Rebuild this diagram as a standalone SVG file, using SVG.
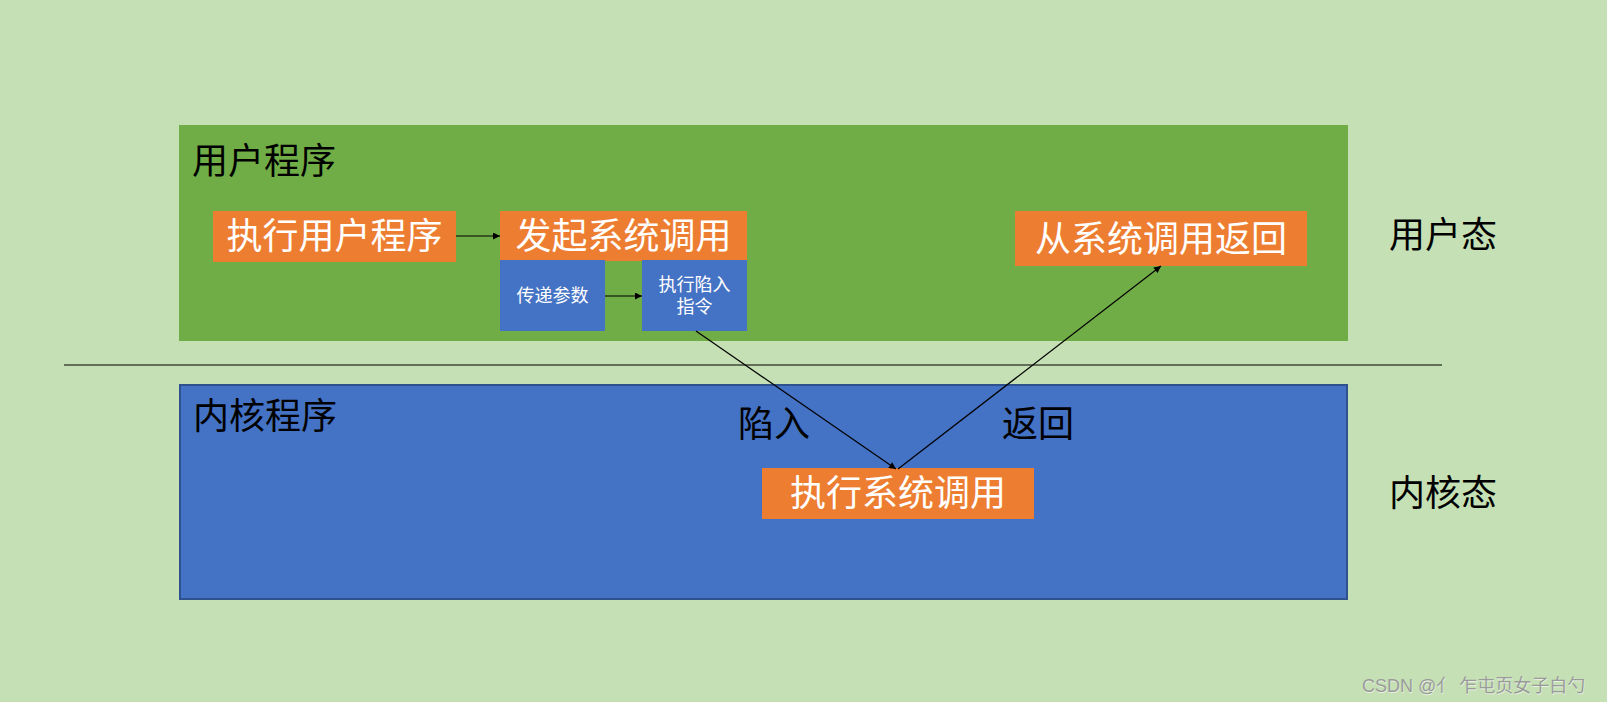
<svg xmlns="http://www.w3.org/2000/svg" width="1607" height="702" viewBox="0 0 1607 702">
<defs>
<marker id="ah" viewBox="0 0 10 10" refX="10" refY="5" markerWidth="8" markerHeight="7" markerUnits="userSpaceOnUse" orient="auto">
<path d="M0,0 L10,5 L0,10 z" fill="#000"/>
</marker>
<style>
.cjk{font-family:"Noto Sans CJK SC","Noto Sans",sans-serif;}
.big{font-size:36px;}
.small{font-size:18px;}
.w{fill:#fff;}
.k{fill:#000;}
.orange{fill:#ED7D31;}
.blue{fill:#4472C4;}
.conn{stroke:#000;stroke-width:1.2;fill:none;marker-end:url(#ah);}
</style>
</defs>
<rect x="0" y="0" width="1607" height="702" fill="#C5E0B4"/>

<g id="user-program">
<rect x="179" y="125" width="1169" height="216" fill="#70AD47"/>
<text class="cjk big k" x="192" y="174">用户程序</text>
</g>

<g id="kernel-program">
<rect x="180" y="385" width="1167" height="214" fill="#4472C4" stroke="#2F528F" stroke-width="2"/>
<text class="cjk big k" x="193" y="429">内核程序</text>
</g>

<line id="divider" x1="64" y1="365" x2="1442" y2="365" stroke="#000" stroke-width="1.2"/>

<g id="exec-user">
<rect class="orange" x="213" y="211" width="243" height="51"/>
<text class="cjk big w" x="334.5" y="249" text-anchor="middle">执行用户程序</text>
</g>

<g id="start-syscall">
<rect class="orange" x="500" y="211" width="247" height="50"/>
<text class="cjk big w" x="623.5" y="249" text-anchor="middle">发起系统调用</text>
</g>

<g id="pass-params">
<rect class="blue" x="500" y="260" width="105" height="71"/>
<text class="cjk small w" x="552.5" y="302" text-anchor="middle">传递参数</text>
</g>

<g id="trap-instr">
<rect class="blue" x="642" y="260" width="105" height="71"/>
<text class="cjk small w" x="694.5" y="291" text-anchor="middle">执行陷入</text>
<text class="cjk small w" x="694.5" y="313" text-anchor="middle">指令</text>
</g>

<g id="return-from-syscall">
<rect class="orange" x="1015" y="211" width="292" height="55"/>
<text class="cjk big w" x="1161" y="252" text-anchor="middle">从系统调用返回</text>
</g>

<g id="exec-syscall">
<rect class="orange" x="762" y="468" width="272" height="51"/>
<text class="cjk big w" x="898" y="506" text-anchor="middle">执行系统调用</text>
</g>

<g id="labels">
<text class="cjk big k" x="738" y="437">陷入</text>
<text class="cjk big k" x="1002" y="437">返回</text>
<text class="cjk big k" x="1389" y="248">用户态</text>
<text class="cjk big k" x="1389" y="506">内核态</text>
</g>

<g id="connectors">
<line class="conn" x1="456" y1="236" x2="500" y2="236"/>
<line class="conn" x1="605" y1="296" x2="642" y2="296"/>
<line class="conn" x1="696" y1="331" x2="896" y2="469"/>
<line class="conn" x1="898" y1="469" x2="1161" y2="266"/>
</g>

<g id="watermark">
<text x="1362.5" y="692.5" font-family="'Liberation Sans','Noto Sans CJK SC',sans-serif" font-size="18" fill="#ffffff" opacity="0.6">CSDN @亻 乍屯页女子白勺</text>
<text x="1362" y="692" font-family="'Liberation Sans','Noto Sans CJK SC',sans-serif" font-size="18" fill="#9a9a9a">CSDN @亻 乍屯页女子白勺</text>
</g>
</svg>
